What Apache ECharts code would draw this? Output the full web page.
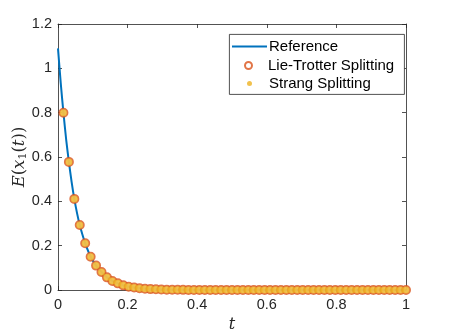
<!DOCTYPE html>
<html><head><meta charset="utf-8">
<script src="https://cdn.jsdelivr.net/npm/echarts@6/dist/echarts.min.js"></script>
<style>html,body{margin:0;padding:0;background:#fff}#c{width:449px;height:336px}</style>
</head><body><div id="c"></div>
<script>
// Reference curve
const refT = [0, 0.0078, 0.0156, 0.0234, 0.0313, 0.0391, 0.0469, 0.0547, 0.0625, 0.0703, 0.0781, 0.0938, 0.1094, 0.125, 0.1406, 0.1563, 0.1719, 0.1875, 0.2031, 0.2188, 0.25, 0.3, 0.4, 0.6, 1.0];
const refY = [1.09, 0.935, 0.800, 0.680, 0.578, 0.488, 0.411, 0.347, 0.293, 0.249, 0.211, 0.150, 0.110, 0.081, 0.057, 0.041, 0.030, 0.021, 0.015, 0.011, 0.006, 0.002, 0.0003, 0, 0];
// Splitting time steps
const stepT = [0.0156, 0.0313, 0.0469, 0.0625, 0.0781, 0.0938, 0.1094, 0.125, 0.1406, 0.1563, 0.1719, 0.1875, 0.2031, 0.2188, 0.2344, 0.25, 0.2656, 0.2813, 0.2969, 0.3125, 0.3281, 0.3438, 0.3594, 0.375, 0.3906, 0.4063, 0.4219, 0.4375, 0.4531, 0.4688, 0.4844, 0.5, 0.5156, 0.5313, 0.5469, 0.5625, 0.5781, 0.5938, 0.6094, 0.625, 0.6406, 0.6563, 0.6719, 0.6875, 0.7031, 0.7188, 0.7344, 0.75, 0.7656, 0.7813, 0.7969, 0.8125, 0.8281, 0.8438, 0.8594, 0.875, 0.8906, 0.9063, 0.9219, 0.9375, 0.9531, 0.9688, 0.9844, 1.0];
const lieY = [0.800, 0.578, 0.411, 0.293, 0.211, 0.150, 0.110, 0.081, 0.057, 0.041, 0.030, 0.021, 0.015, 0.011, 0.008, 0.006, 0.004, 0.003, 0.002, 0.0015, 0.001, 0.0008, 0.0006, 0.0004, 0.0003, 0.0002, 0.0002, 0.0001, 0.0001, 0, 0, 0, 0, 0, 0, 0, 0, 0, 0, 0, 0, 0, 0, 0, 0, 0, 0, 0, 0, 0, 0, 0, 0, 0, 0, 0, 0, 0, 0, 0, 0, 0, 0, 0];
const strangY = [0.800, 0.578, 0.411, 0.293, 0.211, 0.150, 0.110, 0.081, 0.057, 0.041, 0.030, 0.021, 0.015, 0.011, 0.008, 0.006, 0.004, 0.003, 0.002, 0.0015, 0.001, 0.0008, 0.0006, 0.0004, 0.0003, 0.0002, 0.0002, 0.0001, 0.0001, 0, 0, 0, 0, 0, 0, 0, 0, 0, 0, 0, 0, 0, 0, 0, 0, 0, 0, 0, 0, 0, 0, 0, 0, 0, 0, 0, 0, 0, 0, 0, 0, 0, 0, 0];
const seriesNames = ['Reference', 'Lie-Trotter Splitting', 'Strang Splitting'];

const AX = '#262626';
const FONT = 'Liberation Sans, Arial, Helvetica, sans-serif';
const chart = echarts.init(document.getElementById('c'), null, {renderer: 'canvas'});
const axisCommon = {
  axisLine: {show: true, onZero: false, lineStyle: {color: AX, width: 0.8}},
  axisTick: {show: true, inside: true, length: 4, lineStyle: {color: AX, width: 0.8}},
  splitLine: {show: false}
};
const mkLegend = (item, left, top, ih) => ({
  data: [item], orient: 'vertical', left: left, top: top, z: 10,
  itemWidth: 35, itemHeight: ih, itemGap: 0, padding: 0,
  textStyle: {fontFamily: FONT, fontSize: 15, color: '#000', padding: [0, 0, 0, -3]},
  selectedMode: false
});
chart.setOption({
  animation: false,
  backgroundColor: '#fff',
  grid: {left: 58, right: 43, top: 24, bottom: 46, containLabel: false, outerBoundsMode: 'none'},
  graphic: [{type: 'rect', left: 229, top: 34, shape: {width: 175, height: 60},
    style: {fill: '#fff', stroke: AX, lineWidth: 0.8}, z: 1, zlevel: 0}],
  legend: [
    mkLegend({name: seriesNames[0], icon: 'rect', itemStyle: {color: '#0072BD'}}, 232, 39, 2),
    mkLegend({name: seriesNames[1]}, 244, 58, 7),
    mkLegend({name: seriesNames[2]}, 247, 76, 5)
  ],
  xAxis: [
    Object.assign({type: 'value', min: 0, max: 1, interval: 0.2, position: 'bottom',
      name: 't', nameLocation: 'middle', nameGap: 26,
      nameTextStyle: {fontFamily: 'DejaVu Serif', fontStyle: 'italic', fontSize: 16, color: AX},
      axisLabel: {margin: 7, fontFamily: FONT, fontSize: 14.5, color: AX,
        formatter: v => (Math.round(v * 10) / 10).toString()}}, axisCommon),
    Object.assign({type: 'value', min: 0, max: 1, interval: 0.2, position: 'top',
      axisLabel: {show: false}}, axisCommon)
  ],
  yAxis: [
    Object.assign({type: 'value', min: 0, max: 1.2, interval: 0.2, position: 'left',
      name: '{i|E}({i|x}{s|1}({i|t}))', nameLocation: 'middle', nameGap: 29, nameRotate: 90,
      nameMoveOverlap: false,
      nameTextStyle: {fontFamily: 'DejaVu Serif', fontSize: 16.5, color: AX,
        rich: {i: {fontFamily: 'DejaVu Serif', fontStyle: 'italic', fontSize: 16.5, color: AX},
               s: {fontFamily: 'DejaVu Serif', fontSize: 11, color: AX, verticalAlign: 'bottom', padding: [7, 0, 0, 0]}}},
      axisLabel: {margin: 6, fontFamily: FONT, fontSize: 14.5, color: AX,
        formatter: v => (Math.round(v * 10) / 10).toString()}}, axisCommon),
    Object.assign({type: 'value', min: 0, max: 1.2, interval: 0.2, position: 'right',
      axisLabel: {show: false}}, axisCommon)
  ],
  series: [
    {name: seriesNames[0], type: 'line', data: refT.map((t, i) => [t, refY[i]]),
      smooth: 0.3, symbol: 'none', showSymbol: false, lineStyle: {color: '#0072BD', width: 2}, itemStyle: {color: '#0072BD'}, z: 2},
    {name: seriesNames[1], type: 'scatter', data: stepT.map((t, i) => [t, lieY[i]]),
      symbol: 'emptyCircle', symbolSize: 8,
      itemStyle: {color: '#D95319', borderColor: '#D95319', borderWidth: 1}, z: 3},
    {name: seriesNames[2], type: 'scatter', data: stepT.map((t, i) => [t, strangY[i]]),
      symbol: 'circle', symbolSize: 7,
      itemStyle: {color: '#EDB120', borderWidth: 0}, z: 4}
  ]
});
</script></body></html>
